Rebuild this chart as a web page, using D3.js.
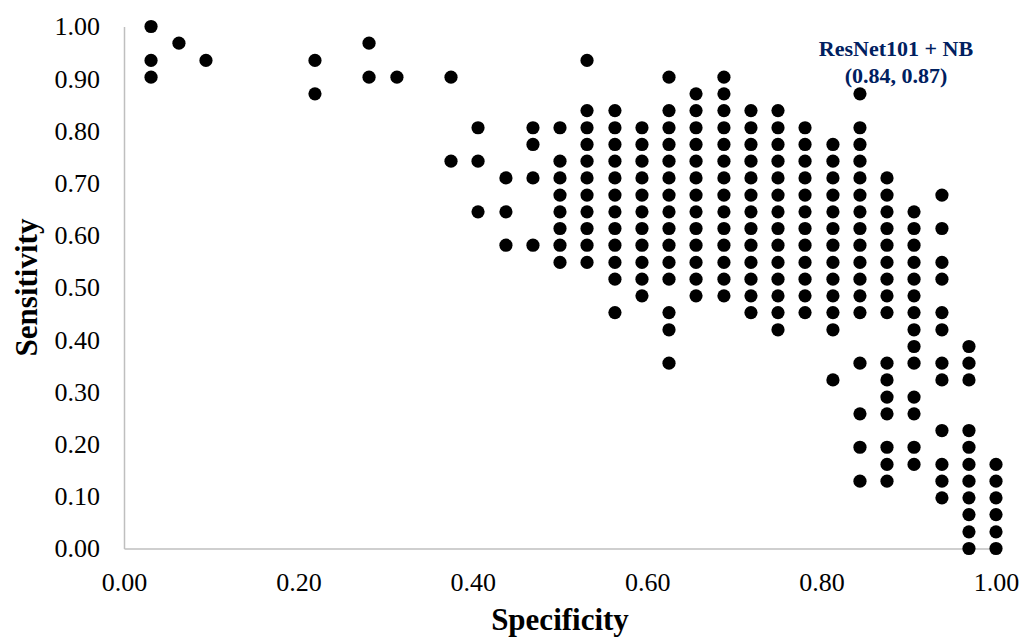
<!DOCTYPE html>
<html>
<head>
<meta charset="utf-8">
<script src="https://cdn.jsdelivr.net/npm/d3@7"></script>
<style>
  body { margin: 0; background: #fff; }
  svg { display: block; }
</style>
</head>
<body>
<svg id="chart" width="1035" height="639"></svg>
<script>
// specificity of every column of dots
const specificity = [0.031, 0.063, 0.094, 0.219, 0.281, 0.313, 0.375, 0.406, 0.438, 0.469,
                     0.500, 0.531, 0.563, 0.594, 0.625, 0.656, 0.688, 0.719, 0.750, 0.781,
                     0.813, 0.844, 0.875, 0.906, 0.938, 0.969, 1.000];
// sensitivity values found at each specificity above (same order)
const sensitivity = [
  [1.000, 0.935, 0.903],
  [0.968],
  [0.935],
  [0.935, 0.871],
  [0.968, 0.903],
  [0.903],
  [0.903, 0.742],
  [0.806, 0.742, 0.645],
  [0.710, 0.645, 0.581],
  [0.806, 0.774, 0.710, 0.581],
  [0.806, 0.742, 0.710, 0.677, 0.645, 0.613, 0.581, 0.548],
  [0.935, 0.839, 0.806, 0.774, 0.742, 0.710, 0.677, 0.645, 0.613, 0.581, 0.548],
  [0.839, 0.806, 0.774, 0.742, 0.710, 0.677, 0.645, 0.613, 0.581, 0.548, 0.516, 0.452],
  [0.806, 0.774, 0.742, 0.710, 0.677, 0.645, 0.613, 0.581, 0.548, 0.516, 0.484],
  [0.903, 0.839, 0.806, 0.774, 0.742, 0.710, 0.677, 0.645, 0.613, 0.581, 0.548, 0.516, 0.452, 0.419, 0.355],
  [0.871, 0.839, 0.806, 0.774, 0.742, 0.710, 0.677, 0.645, 0.613, 0.581, 0.548, 0.516, 0.484],
  [0.903, 0.871, 0.839, 0.806, 0.774, 0.742, 0.710, 0.677, 0.645, 0.613, 0.581, 0.548, 0.516, 0.484],
  [0.839, 0.806, 0.774, 0.742, 0.710, 0.677, 0.645, 0.613, 0.581, 0.548, 0.516, 0.484, 0.452],
  [0.839, 0.806, 0.774, 0.742, 0.710, 0.677, 0.645, 0.613, 0.581, 0.548, 0.516, 0.484, 0.452, 0.419],
  [0.806, 0.774, 0.742, 0.710, 0.677, 0.645, 0.613, 0.581, 0.548, 0.516, 0.484, 0.452],
  [0.774, 0.742, 0.710, 0.677, 0.645, 0.613, 0.581, 0.548, 0.516, 0.484, 0.452, 0.419, 0.323],
  [0.871, 0.806, 0.774, 0.742, 0.710, 0.677, 0.645, 0.613, 0.581, 0.548, 0.516, 0.484, 0.452, 0.355, 0.258, 0.194, 0.129],
  [0.710, 0.677, 0.645, 0.613, 0.581, 0.548, 0.516, 0.484, 0.452, 0.355, 0.323, 0.290, 0.258, 0.194, 0.161, 0.129],
  [0.645, 0.613, 0.581, 0.548, 0.516, 0.484, 0.452, 0.419, 0.387, 0.355, 0.290, 0.258, 0.194, 0.161],
  [0.677, 0.613, 0.548, 0.516, 0.452, 0.419, 0.355, 0.323, 0.226, 0.161, 0.129, 0.097],
  [0.387, 0.355, 0.323, 0.226, 0.194, 0.161, 0.129, 0.097, 0.065, 0.032, 0.000],
  [0.161, 0.129, 0.097, 0.065, 0.032, 0.000]
];
const xTicks = [0, 0.2, 0.4, 0.6, 0.8, 1.0];
const yTicks = [0, 0.1, 0.2, 0.3, 0.4, 0.5, 0.6, 0.7, 0.8, 0.9, 1.0];
const bestPoint = [0.844, 0.871];
const bestLabel = ["ResNet101 + NB", "(0.84, 0.87)"];

class scatterChart{
  init(element){
    let $this     = this;
    $this.svg     = d3.select(element);
    $this.font    = "'Liberation Serif', 'Times New Roman', serif";
    $this.x       = d3.scaleLinear().domain([0, 1]).range([124, 996]);
    $this.y       = d3.scaleLinear().domain([0, 1]).range([548.5, 26.5]);
    $this.points  = specificity.flatMap((s, i) => sensitivity[i].map(v => ({spec: s, sens: v})));
  }
  draw(){
    let $this = this;
    let svg   = $this.svg;

    let xAxis = svg.append("g")
      .attr("transform", "translate(0," + $this.y(0) + ")")
      .call(d3.axisBottom($this.x).tickValues(xTicks).tickFormat(d3.format(".2f"))
        .tickSize(0).tickPadding(24));
    let yAxis = svg.append("g")
      .attr("transform", "translate(" + $this.x(0) + ",0)")
      .call(d3.axisLeft($this.y).tickValues(yTicks).tickFormat(d3.format(".2f"))
        .tickSize(0).tickPadding(24));

    [xAxis, yAxis].forEach(a => {
      a.select(".domain").attr("stroke", "#bfbfbf").attr("stroke-width", 1.5);
      a.selectAll("text")
        .attr("font-family", $this.font)
        .attr("font-size", 26)
        .attr("fill", "#000");
    });

    svg.append("g")
      .selectAll("circle")
      .data($this.points)
      .join("circle")
      .attr("cx", d => $this.x(d.spec))
      .attr("cy", d => $this.y(d.sens))
      .attr("r", 6.6)
      .attr("fill", "#000");

    // axis titles
    svg.append("text")
      .attr("x", ($this.x(0) + $this.x(1)) / 2)
      .attr("y", 630)
      .attr("text-anchor", "middle")
      .attr("font-family", $this.font)
      .attr("font-weight", "bold")
      .attr("font-size", 31)
      .text("Specificity");
    svg.append("text")
      .attr("transform", "translate(37," + ($this.y(0) + $this.y(1)) / 2 + ") rotate(-90)")
      .attr("text-anchor", "middle")
      .attr("font-family", $this.font)
      .attr("font-weight", "bold")
      .attr("font-size", 31)
      .text("Sensitivity");

    // label of the best model
    let label = svg.append("text")
      .attr("text-anchor", "middle")
      .attr("font-family", $this.font)
      .attr("font-weight", "bold")
      .attr("font-size", 22)
      .attr("fill", "#002060");
    label.selectAll("tspan")
      .data(bestLabel)
      .join("tspan")
      .attr("x", $this.x(bestPoint[0]) + 36)
      .attr("y", (d, i) => $this.y(bestPoint[1]) - 38 + i * 27)
      .text(d => d);
  }
}

let chart = new scatterChart();
chart.init(document.getElementById("chart"));
chart.draw();
</script>
</body>
</html>
